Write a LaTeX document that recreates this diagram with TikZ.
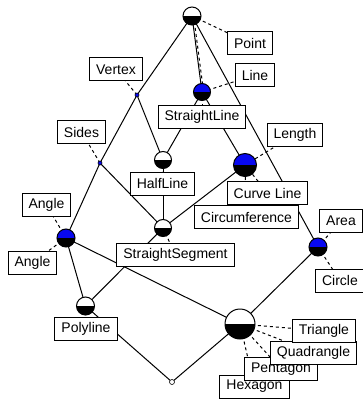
\documentclass[tikz,border=0pt]{standalone}
\usepackage{fontspec}
\setmainfont{Liberation Sans}
\definecolor{conceptblue}{RGB}{8,8,240}
\begin{document}
\begin{tikzpicture}[x=1pt,y=-1pt,
  edge/.style={line width=1pt, black},
  labelline/.style={line width=1pt, black, dash pattern=on 3pt off 3pt},
  lbl/.style={draw, fill=white, line width=1pt, inner xsep=6.5pt, inner ysep=0pt,
    minimum height=23pt, font=\fontsize{14}{15}\selectfont},
  concept/.style 2 args={circle, draw, line width=1pt, inner sep=0pt,
    minimum size=#1, fill=#2,
    path picture={\fill[black] (path picture bounding box.west) rectangle
      (path picture bounding box.south east);}},
  dot/.style={circle, draw, line width=0.6pt, inner sep=0pt, minimum size=#1}
]
\useasboundingbox (0,0) rectangle (362,401);

% concept positions
\coordinate (top) at (192,16);
\coordinate (sl) at (202,92);
\coordinate (vx) at (137,95);
\coordinate (sd) at (100,163);
\coordinate (hl) at (163,160);
\coordinate (cl) at (245,165);
\coordinate (ss) at (163,228);
\coordinate (an) at (66,238);
\coordinate (pl) at (85.5,306);
\coordinate (ci) at (318,247);
\coordinate (bg) at (240,324);
\coordinate (bt) at (172,382);

% label anchors
\coordinate (Lpoint) at (250,43.5);
\coordinate (Lline) at (255,75);
\coordinate (Lvertex) at (116,69.5);
\coordinate (Lsides) at (81.5,132);
\coordinate (Lsl) at (202,117);
\coordinate (Lhl) at (162.5,183.5);
\coordinate (Llength) at (295,134.5);
\coordinate (Lcurve) at (267.5,193);
\coordinate (Lcircum) at (246.5,217);
\coordinate (Larea) at (341,220.5);
\coordinate (Lcircle) at (340,280.5);
\coordinate (Langle1) at (46.5,205);
\coordinate (Langle2) at (32.5,262.5);
\coordinate (Lss) at (175.5,255);
\coordinate (Lpoly) at (86,329);
\coordinate (Ltri) at (324,331);
\coordinate (Lquad) at (313.5,352.5);
\coordinate (Lpent) at (281,369);
\coordinate (Lhex) at (254.5,386.5);

% lattice edges
\draw[edge] (top) -- (vx);
\draw[edge] (top) -- (sl);
\draw[labelline] ([xshift=1.6pt]top) -- ([xshift=1.6pt]sl);
\draw[edge] (top) -- (ci);
\draw[edge] (vx) -- (sd);
\draw[edge] (vx) -- (hl);
\draw[edge] (sl) -- (hl);
\draw[edge] (sl) -- (cl);
\draw[edge] (sd) -- (an);
\draw[edge] (sd) -- (ss);
\draw[edge] (hl) -- (ss);
\draw[edge] (cl) -- (ss);
\draw[edge] (an) -- (pl);
\draw[edge] (an) -- (bg);
\draw[edge] (ss) -- (pl);
\draw[edge] (pl) -- (bt);
\draw[edge] (bg) -- (bt);
\draw[edge] (bg) -- (ci);

% dashed lines from concepts to their labels
\draw[labelline] (top) -- (Lpoint);
\draw[labelline] (sl) -- (Lline);
\draw[labelline] (sl) -- (Lsl);
\draw[labelline] (vx) -- (Lvertex);
\draw[labelline] (sd) -- (Lsides);
\draw[labelline] (hl) -- (Lhl);
\draw[labelline] (cl) -- (Llength);
\draw[labelline] (cl) -- (Lcurve);
\draw[labelline] (cl) -- (Lcircum);
\draw[labelline] (ss) -- (Lss);
\draw[labelline] (an) -- (Langle1);
\draw[labelline] (an) -- (Langle2);
\draw[labelline] (pl) -- (Lpoly);
\draw[labelline] (ci) -- (Larea);
\draw[labelline] (ci) -- (Lcircle);
\draw[labelline] (bg) -- (Ltri);
\draw[labelline] (bg) -- (Lquad);
\draw[labelline] (bg) -- (Lpent);
\draw[labelline] (bg) -- (Lhex);

% label boxes
\node[lbl] (point) at (Lpoint) {Point};
\node[lbl] (line) at (Lline) {Line};
\node[lbl] (vertex) at (Lvertex) {Vertex};
\node[lbl] (sides) at (Lsides) {Sides};
\node[lbl] (straightline) at (Lsl) {StraightLine};
\node[lbl] (halfline) at (Lhl) {HalfLine};
\node[lbl] (length) at (Llength) {Length};
\node[lbl] (curveline) at (Lcurve) {Curve Line};
\node[lbl] (circumference) at (Lcircum) {Circumference};
\node[lbl] (area) at (Larea) {Area};
\node[lbl] (circle) at (Lcircle) {Circle};
\node[lbl] (angleA) at (Langle1) {Angle};
\node[lbl] (angleB) at (Langle2) {Angle};
\node[lbl] (segment) at (Lss) {StraightSegment};
\node[lbl] (polyline) at (Lpoly) {Polyline};
\node[lbl] (hexagon) at (Lhex) {Hexagon};
\node[lbl] (pentagon) at (Lpent) {Pentagon};
\node[lbl] (quadrangle) at (Lquad) {Quadrangle};
\node[lbl] (triangle) at (Ltri) {Triangle};

% concept circles
\node[concept={18pt}{white}] (nTop) at (top) {};
\node[concept={17pt}{conceptblue}] (nSl) at (sl) {};
\node[dot=4pt, fill=conceptblue] (nVx) at (vx) {};
\node[dot=4pt, fill=conceptblue] (nSd) at (sd) {};
\node[concept={17pt}{white}] (nHl) at (hl) {};
\node[concept={23pt}{conceptblue}] (nCl) at (cl) {};
\node[concept={17pt}{white}] (nSs) at (ss) {};
\node[concept={18pt}{conceptblue}] (nAn) at (an) {};
\node[concept={18pt}{white}] (nPl) at (pl) {};
\node[concept={18pt}{conceptblue}] (nCi) at (ci) {};
\node[concept={30pt}{white}] (nBg) at (bg) {};
\node[dot=5pt, fill=white] (nBt) at (bt) {};
\end{tikzpicture}
\end{document}
